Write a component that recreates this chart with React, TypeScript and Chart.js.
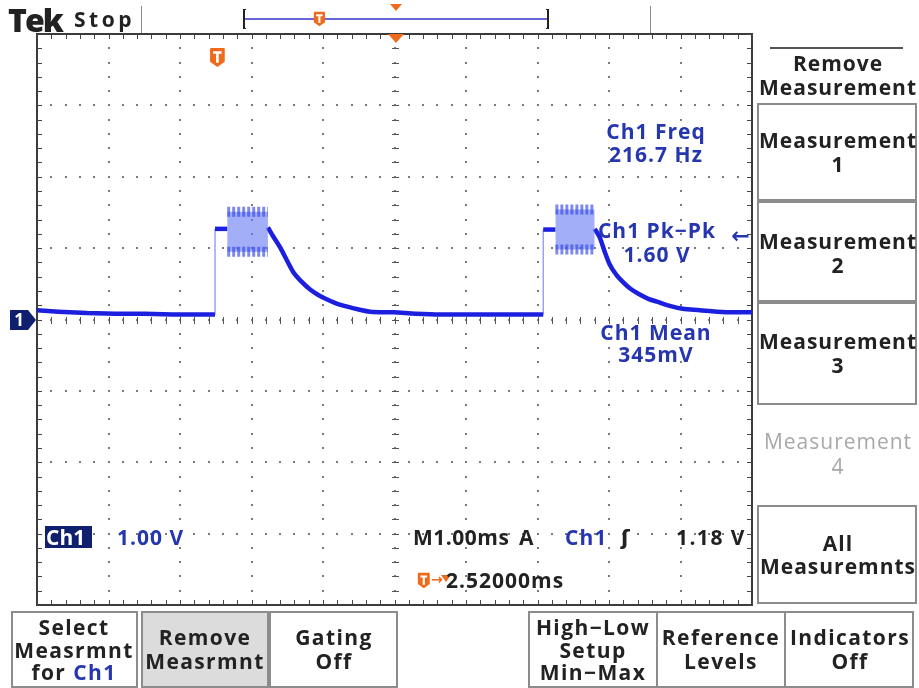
import React, { useEffect, useRef } from "react";
import { Chart, registerables } from "chart.js";
Chart.register(...registerables);

// ---- data (time in ms, voltage in V) ----
const pulse1T = [0, 0.3, 0.7, 1.1, 1.5, 1.9, 2.3, 2.49, 2.49, 2.66];
const pulse1V = [0.13, 0.11, 0.09, 0.08, 0.08, 0.07, 0.07, 0.07, 1.27, 1.27];
const burst1T = [2.66, 3.23];
const burst1Hi = [1.51, 1.51];
const burst1Lo = [0.95, 0.95];
const decay1T = [3.23, 3.3, 3.4, 3.5, 3.58, 3.7, 3.82, 3.94, 4.06, 4.2, 4.34, 4.5, 4.66, 4.98, 5.3, 5.64, 6.0, 6.5, 7.08];
const decay1V = [1.29, 1.17, 1.01, 0.82, 0.67, 0.53, 0.42, 0.34, 0.28, 0.22, 0.18, 0.14, 0.11, 0.1, 0.08, 0.07, 0.07, 0.07, 0.07];
const pulse2T = [7.08, 7.08, 7.25];
const pulse2V = [0.07, 1.26, 1.26];
const burst2T = [7.25, 7.8];
const burst2Hi = [1.54, 1.54];
const burst2Lo = [0.98, 0.98];
const decay2T = [7.8, 7.87, 7.94, 8.01, 8.1, 8.2, 8.3, 8.43, 8.55, 8.67, 8.85, 9.03, 9.27, 9.51, 9.75, 10.0];
const decay2V = [1.27, 1.15, 0.95, 0.77, 0.63, 0.52, 0.43, 0.35, 0.29, 0.25, 0.19, 0.15, 0.13, 0.11, 0.1, 0.1];

const xDivs = [0, 1, 2, 3, 4, 5, 6, 7, 8, 9, 10];
const yDivs = [-4, -3, -2, -1, 0, 1, 2, 3, 4];

const TRACE = "#1c1fdd";
const BLUE_TXT = "#2536b0";
const ORANGE = "#f06a1c";

const pts = (t: number[], v: number[]) => t.map((x, i) => ({ x, y: v[i] }));

const graticule = {
  id: "graticule",
  beforeDatasetsDraw(chart: any) {
    const { ctx, chartArea: a, scales } = chart;
    const xs = scales.x, ys = scales.y;
    ctx.save();
    ctx.fillStyle = "#fff";
    ctx.fillRect(a.left, a.top, a.right - a.left, a.bottom - a.top);
    ctx.fillStyle = "#7a7a7a";
    for (const gx of xDivs) {
      const px = Math.round(xs.getPixelForValue(gx));
      for (let k = yDivs[0] * 5; k <= yDivs[yDivs.length - 1] * 5; k++) {
        const py = Math.round(ys.getPixelForValue(k / 5));
        ctx.fillRect(px - 1, py - 1, 2, 2);
      }
    }
    for (const gy of yDivs) {
      const py = Math.round(ys.getPixelForValue(gy));
      for (let k = xDivs[0] * 5; k <= xDivs[xDivs.length - 1] * 5; k++) {
        const px = Math.round(xs.getPixelForValue(k / 5));
        ctx.fillRect(px - 1, py - 1, 2, 2);
      }
    }
    const cx = Math.round(xs.getPixelForValue(5));
    const cy = Math.round(ys.getPixelForValue(0));
    ctx.fillStyle = "#555";
    for (let k = yDivs[0] * 5; k <= yDivs[yDivs.length - 1] * 5; k++) {
      const py = Math.round(ys.getPixelForValue(k / 5));
      ctx.fillRect(cx - 3, py, 7, 1);
    }
    for (let k = xDivs[0] * 5; k <= xDivs[xDivs.length - 1] * 5; k++) {
      const px = Math.round(xs.getPixelForValue(k / 5));
      ctx.fillRect(px, cy - 3, 1, 7);
    }
    ctx.strokeStyle = "#3c3c3c";
    ctx.lineWidth = 2;
    ctx.strokeRect(a.left, a.top, a.right - a.left, a.bottom - a.top);
    ctx.fillStyle = "#444";
    for (let k = xDivs[0] * 5; k <= xDivs[xDivs.length - 1] * 5; k++) {
      const px = Math.round(xs.getPixelForValue(k / 5));
      ctx.fillRect(px, a.top, 1, 5);
      ctx.fillRect(px, a.bottom - 5, 1, 5);
    }
    for (let k = yDivs[0] * 5; k <= yDivs[yDivs.length - 1] * 5; k++) {
      const py = Math.round(ys.getPixelForValue(k / 5));
      ctx.fillRect(a.left, py, 5, 1);
      ctx.fillRect(a.right - 5, py, 5, 1);
    }
    ctx.restore();
  },
};

const FONT = "'Open Sans', 'DejaVu Sans', sans-serif";

function Txt(props: { x: number; y: number; size?: number; color?: string; align?: string; weight?: number; children: any; spacing?: number }) {
  const size = props.size ?? 21;
  const align = props.align ?? "center";
  const w = 300;
  let left = props.x - w / 2;
  if (align === "left") left = props.x;
  if (align === "right") left = props.x - w;
  return (
    <div
      style={{
        position: "absolute",
        left,
        top: props.y - size / 2,
        width: w,
        textAlign: align as any,
        fontFamily: FONT,
        fontSize: size,
        lineHeight: `${size}px`,
        fontWeight: props.weight ?? 700,
        color: props.color ?? "#222",
        whiteSpace: "nowrap",
        letterSpacing: props.spacing ?? 1,
      }}
    >
      {props.children}
    </div>
  );
}

function Box(props: { x: number; y: number; w: number; h: number; bg?: string }) {
  return (
    <div
      style={{
        position: "absolute",
        left: props.x,
        top: props.y,
        width: props.w,
        height: props.h,
        boxSizing: "border-box",
        border: "2px solid #8c8c8c",
        background: props.bg ?? "#fff",
      }}
    />
  );
}

function TMark(props: { x: number; y: number; s?: number }) {
  const s = props.s ?? 1;
  return (
    <svg style={{ position: "absolute", left: props.x - 8 * s, top: props.y - 10 * s }} width={16 * s} height={20 * s} viewBox="0 0 16 20">
      <path d="M2 1 H14 Q15 1 15 2 V14 L8 19 L1 14 V2 Q1 1 2 1 Z" fill={ORANGE} />
      <path d="M4 4 H12 V6.5 H9.3 V15 H6.7 V6.5 H4 Z" fill="#fff" />
    </svg>
  );
}

export default function App() {
  const ref = useRef<HTMLCanvasElement>(null);
  useEffect(() => {
    const segWidth = (ctx: any) => (ctx.p0.parsed.x === ctx.p1.parsed.x ? 1.2 : undefined);
    const segColor = (ctx: any) => (ctx.p0.parsed.x === ctx.p1.parsed.x ? "rgba(80,90,235,0.7)" : undefined);
    const lineDs = (t: number[], v: number[], mono: boolean) => ({
      data: pts(t, v),
      borderColor: TRACE,
      borderWidth: 4.5,
      pointRadius: 0,
      fill: false,
      cubicInterpolationMode: mono ? "monotone" : "default",
      tension: 0,
      segment: { borderWidth: segWidth, borderColor: segColor },
    });
    const band = (t: number[], v: number[], fill: any) => ({
      data: pts(t, v),
      borderColor: "rgba(40,60,228,0.6)",
      borderWidth: 10,
      borderDash: [3, 2],
      pointRadius: 0,
      fill,
      backgroundColor: "rgba(100,120,242,0.6)",
    });
    const chart = new Chart(ref.current!, {
      type: "line",
      data: {
        datasets: [
          lineDs(pulse1T, pulse1V, false),
          band(burst1T, burst1Lo, false),
          band(burst1T, burst1Hi, "-1"),
          lineDs(decay1T, decay1V, true),
          lineDs(pulse2T, pulse2V, false),
          band(burst2T, burst2Lo, false),
          band(burst2T, burst2Hi, "-1"),
          lineDs(decay2T, decay2V, true),
        ] as any,
      },
      options: {
        animation: false,
        responsive: false,
        layout: { padding: { left: 37, top: 34, right: 167, bottom: 83 } },
        plugins: { legend: { display: false }, tooltip: { enabled: false } },
        scales: {
          x: { type: "linear", min: 0, max: 10, display: false },
          y: { type: "linear", min: -4, max: 4, display: false },
        },
      },
      plugins: [graticule],
    });
    return () => chart.destroy();
  }, []);

  return (
    <div style={{ position: "absolute", left: 0, top: 0, width: 919, height: 688, background: "#fff", overflow: "hidden" }}>
      <canvas ref={ref} width={919} height={688} style={{ position: "absolute", left: 0, top: 0 }} />
      {/* top bar */}
      <Txt x={8} y={20} size={32} align="left" weight={800} spacing={-2}>Tek</Txt>
      <Txt x={74} y={19} size={21} align="left" weight={700} spacing={3.5}>Stop</Txt>
      <div style={{ position: "absolute", left: 141, top: 6, width: 1, height: 27, background: "#888" }} />
      <div style={{ position: "absolute", left: 650, top: 6, width: 1, height: 27, background: "#888" }} />
      <div style={{ position: "absolute", left: 243, top: 9, width: 3, height: 20, borderLeft: "2px solid #222", borderTop: "1px solid #222", borderBottom: "1px solid #222", boxSizing: "border-box" }} />
      <div style={{ position: "absolute", left: 546, top: 9, width: 3, height: 20, borderRight: "2px solid #222", borderTop: "1px solid #222", borderBottom: "1px solid #222", boxSizing: "border-box" }} />
      <div style={{ position: "absolute", left: 245, top: 18, width: 302, height: 2, background: "#6a66d8" }} />
      <TMark x={319} y={19} s={0.8} />
      <svg style={{ position: "absolute", left: 390, top: 4 }} width={12} height={8}><path d="M0 0 H12 L6 7 Z" fill={ORANGE} /></svg>
      <svg style={{ position: "absolute", left: 388, top: 34 }} width={16} height={10}><path d="M0 0 H16 L8 9 Z" fill={ORANGE} /></svg>
      <TMark x={217} y={57} s={1.05} />

      {/* ground marker */}
      <svg style={{ position: "absolute", left: 9, top: 309 }} width={28} height={22} viewBox="0 0 28 22">
        <path d="M1 1 H19 L27 11 L19 21 H1 Z" fill="#10206e" />
        <text x="10" y="17" fill="#fff" fontFamily="Open Sans, sans-serif" fontWeight="700" fontSize="17" textAnchor="middle">1</text>
      </svg>

      {/* measurement readouts */}
      <Txt x={656} y={131} color={BLUE_TXT}>Ch1 Freq</Txt>
      <Txt x={656} y={154} color={BLUE_TXT}>216.7 Hz</Txt>
      <Txt x={657} y={230} color={BLUE_TXT}>Ch1 Pk−Pk</Txt>
      <Txt x={657} y={254} color={BLUE_TXT}>1.60 V</Txt>
      <Txt x={741} y={234} color={BLUE_TXT} size={22} weight={700}>←</Txt>
      <Txt x={656} y={332} color={BLUE_TXT}>Ch1 Mean</Txt>
      <Txt x={656} y={354} color={BLUE_TXT}>345mV</Txt>

      {/* scale readouts */}
      <div style={{ position: "absolute", left: 45, top: 526, width: 47, height: 22, background: "#10206e" }} />
      <Txt x={46} y={537} align="left" color="#fff" weight={700} spacing={0}>Ch1</Txt>
      <Txt x={117} y={537} align="left" color={BLUE_TXT}>1.00 V</Txt>
      <Txt x={413} y={537} align="left" spacing={0.5}>M1.00ms</Txt>
      <Txt x={519} y={537} align="left">A</Txt>
      <Txt x={565} y={537} align="left" color={BLUE_TXT}>Ch1</Txt>
      <Txt x={621} y={537} align="left" weight={800}>ʃ</Txt>
      <Txt x={746} y={537} align="right" spacing={1.5}>1.18 V</Txt>
      <TMark x={424} y={580} s={0.85} />
      <Txt x={431} y={579} align="left" color={ORANGE} size={14} weight={700} spacing={0}>→</Txt>
      <svg style={{ position: "absolute", left: 441, top: 575 }} width={10} height={8}><path d="M0 0 H10 L5 7 Z" fill={ORANGE} /></svg>
      <Txt x={446} y={580} align="left">2.52000ms</Txt>

      {/* right menu */}
      <div style={{ position: "absolute", left: 770, top: 47, width: 133, height: 2, background: "#555" }} />
      <Txt x={838} y={63}>Remove</Txt>
      <Txt x={838} y={87}>Measurement</Txt>
      <Box x={757} y={103} w={160} h={98} />
      <Txt x={838} y={140}>Measurement</Txt>
      <Txt x={838} y={164}>1</Txt>
      <Box x={757} y={201} w={160} h={101} />
      <Txt x={838} y={241}>Measurement</Txt>
      <Txt x={838} y={265}>2</Txt>
      <Box x={757} y={302} w={160} h={103} />
      <Txt x={838} y={341}>Measurement</Txt>
      <Txt x={838} y={365}>3</Txt>
      <Txt x={838} y={441} color="#a8a8a8" weight={400}>Measurement</Txt>
      <Txt x={838} y={466} color="#a8a8a8" weight={400}>4</Txt>
      <Box x={757} y={505} w={160} h={99} />
      <Txt x={838} y={543}>All</Txt>
      <Txt x={838} y={566}>Measuremnts</Txt>

      {/* bottom menu */}
      <Box x={11} y={611} w={127} h={77} />
      <Txt x={74} y={627} spacing={1.4}>Select</Txt>
      <Txt x={74} y={650} spacing={1.4}>Measrmnt</Txt>
      <Txt x={74} y={672} spacing={1.4}>for <span style={{ color: BLUE_TXT }}>Ch1</span></Txt>
      <Box x={141} y={611} w={128} h={77} bg="#dcdcdc" />
      <Txt x={205} y={637} spacing={1.4}>Remove</Txt>
      <Txt x={205} y={661} spacing={1.4}>Measrmnt</Txt>
      <Box x={269} y={611} w={129} h={77} />
      <Txt x={334} y={637} spacing={1.4}>Gating</Txt>
      <Txt x={334} y={661} spacing={1.4}>Off</Txt>
      <Box x={528} y={611} w={130} h={77} />
      <Txt x={593} y={627} spacing={1.4}>High−Low</Txt>
      <Txt x={593} y={650} spacing={1.4}>Setup</Txt>
      <Txt x={593} y={672} spacing={1.4}>Min−Max</Txt>
      <Box x={656} y={611} w={130} h={77} />
      <Txt x={721} y={637} spacing={1.4}>Reference</Txt>
      <Txt x={721} y={661} spacing={1.4}>Levels</Txt>
      <Box x={784} y={611} w={130} h={77} />
      <Txt x={850} y={637} spacing={1.4}>Indicators</Txt>
      <Txt x={850} y={661} spacing={1.4}>Off</Txt>
    </div>
  );
}
